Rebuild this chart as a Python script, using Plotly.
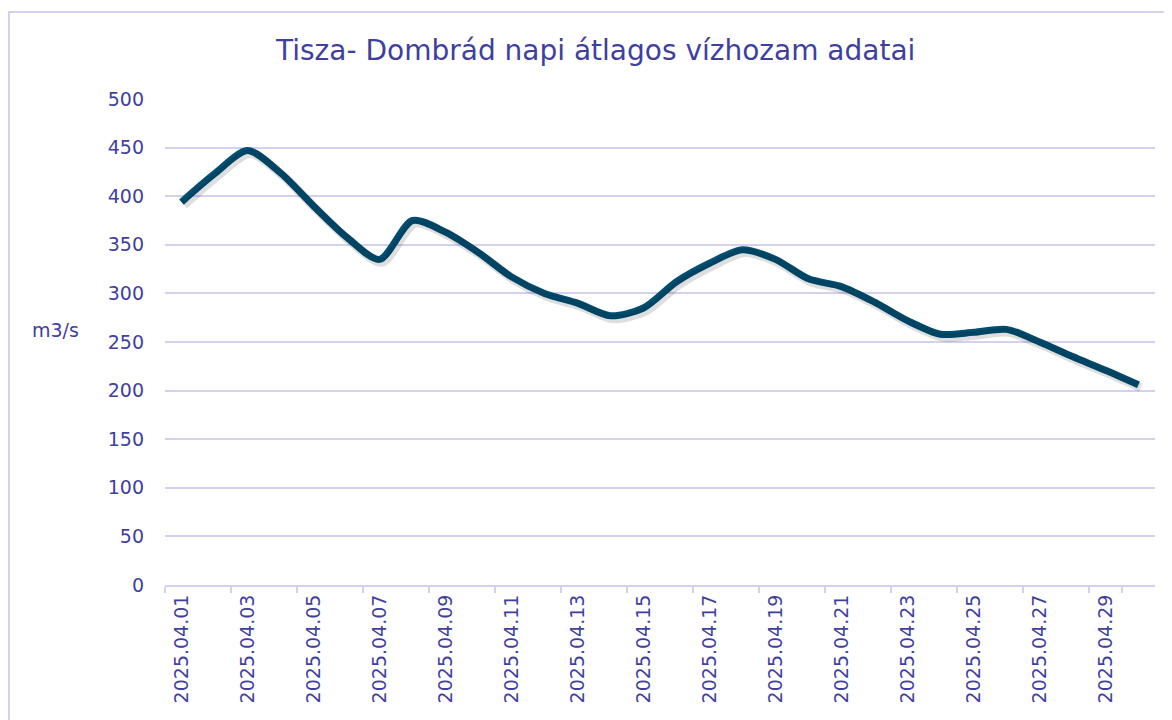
import plotly.graph_objects as go

dates = [f"2025.04.{d:02d}" for d in range(1, 31)]
flow = [394, 423, 447, 424, 390, 358, 335, 375, 363, 342,
        317, 300, 290, 277, 285, 312, 331, 345, 335, 315,
        307, 291, 272, 258, 260, 263, 250, 235, 221, 206]
tick_labels = dates[::2]

title_text = "Tisza- Dombrád napi átlagos vízhozam adatai"
y_title = "m3/s"

txt = "#3F3FA0"
grid = "#D3D0F0"
line_col = "#004F73"
font = "DejaVu Sans"

# plot area in figure pixels (page has an 8px body margin)
L, R, T, B = 157, 1147, 91, 577
W, H = R - L, B - T

def px(x):
    return (x - L) / W

def py(y):
    return (B - y) / H

fig = go.Figure()
# soft shadow under the line
fig.add_trace(go.Scatter(x=dates, y=flow, mode="lines", xaxis="x2", yaxis="y2",
                         line=dict(color="rgba(0,0,0,0.13)", width=9, shape="spline", smoothing=0.8),
                         hoverinfo="skip", showlegend=False))
fig.add_trace(go.Scatter(x=dates, y=flow, mode="lines",
                         line=dict(color=line_col, width=7, shape="spline", smoothing=0.8),
                         showlegend=False))

fig.update_layout(
    width=1172, height=720,
    margin=dict(l=L, r=1172 - R, t=T, b=720 - B),
    paper_bgcolor="white", plot_bgcolor="white",
    font=dict(family=font, color=txt, size=19),
    xaxis=dict(type="category", categoryorder="array", categoryarray=dates,
               tickmode="array", tickvals=tick_labels, ticktext=tick_labels,
               tickson="boundaries", ticks="outside", ticklen=6, tickwidth=2, tickcolor=grid,
               showline=True, linecolor=grid, linewidth=2, showgrid=False,
               tickangle=-90, tickfont=dict(size=19, color=txt), range=[-0.5, 29.5]),
    yaxis=dict(range=[0, 500], dtick=50, showgrid=True, gridcolor=grid, gridwidth=2,
               zeroline=False, showline=False, ticks="", ticklabelstandoff=20,
               tickfont=dict(size=19, color=txt)),
    xaxis2=dict(type="category", categoryorder="array", categoryarray=dates, overlaying="x",
                range=[-0.5 - 0.07, 29.5 - 0.07], visible=False),
    yaxis2=dict(overlaying="y", range=[3.0, 503.0], visible=False),
    annotations=[
        dict(text=title_text, xref="paper", yref="paper", x=px(586.5), y=py(42),
             xanchor="center", yanchor="middle", showarrow=False,
             font=dict(size=28, color=txt, family=font)),
        dict(text=y_title, xref="paper", yref="paper", x=px(47), y=py(322),
             xanchor="center", yanchor="middle", showarrow=False,
             font=dict(size=19, color=txt, family=font)),
    ],
    shapes=[dict(type="rect", xref="paper", yref="paper",
                 x0=px(1), x1=px(1185),
                 y0=py(735), y1=py(4),
                 line=dict(color=grid, width=2), fillcolor="rgba(0,0,0,0)", layer="below")],
)

fig.write_html("out.html")
